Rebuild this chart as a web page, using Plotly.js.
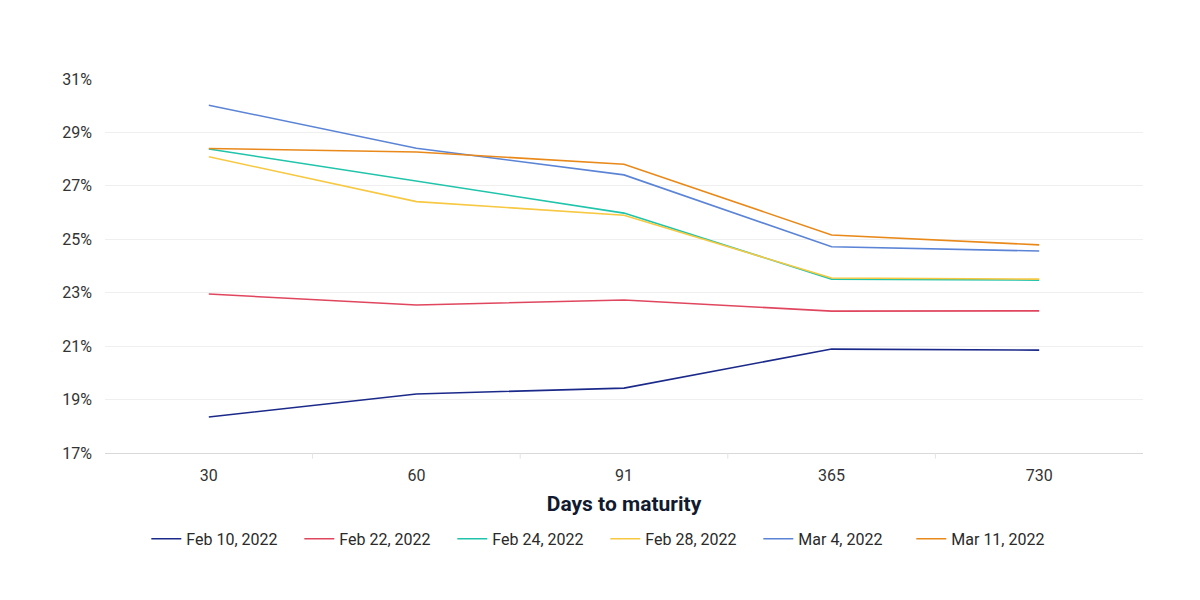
<!DOCTYPE html>
<html>
<head>
<meta charset="utf-8">
<script src="https://cdn.plot.ly/plotly-3.0.1.min.js"></script>
<style>
  body { margin: 0; background: #fff; }
  #chart { width: 1200px; height: 600px; }
</style>
</head>
<body>
<div id="chart"></div>
<script>
var days = ['30', '60', '91', '365', '730'];

var feb10 = [18.35, 19.21, 19.43, 20.89, 20.85];
var feb22 = [22.95, 22.54, 22.73, 22.31, 22.32];
var feb24 = [28.38, 27.18, 25.98, 23.51, 23.47];
var feb28 = [28.09, 26.41, 25.90, 23.55, 23.51];
var mar4  = [30.02, 28.41, 27.41, 24.72, 24.56];
var mar11 = [28.40, 28.27, 27.81, 25.16, 24.79];

var names  = ['Feb 10, 2022', 'Feb 22, 2022', 'Feb 24, 2022', 'Feb 28, 2022', 'Mar 4, 2022', 'Mar 11, 2022'];
var colors = ['#1b2a8a', '#e0475f', '#1fc4aa', '#f7c841', '#5b84d6', '#e8891a'];
var series = [feb10, feb22, feb24, feb28, mar4, mar11];

var traces = series.map(function (s, i) {
    return {
        x: days,
        y: s,
        name: names[i],
        type: 'scatter',
        mode: 'lines',
        line: { color: colors[i], width: 1.6 },
        hovertemplate: '%{y:.2f}%<extra>' + names[i] + '</extra>'
    };
});

var layout = {
    width: 1200,
    height: 600,
    paper_bgcolor: '#ffffff',
    plot_bgcolor: '#ffffff',
    font: { family: 'Roboto, "Open Sans", sans-serif', size: 16, color: '#333333' },
    margin: { l: 105, r: 57, t: 79, b: 147 },
    showlegend: true,
    legend: {
        orientation: 'h',
        x: 0.482,
        xanchor: 'center',
        y: -0.184,
        yanchor: 'top',
        font: { size: 16, color: '#2a2a2a' },
        entrywidth: 108,
        itemwidth: 30,
        tracegroupgap: 0
    },
    xaxis: {
        type: 'category',
        range: [-0.5, 4.5],
        showgrid: false,
        showline: true,
        linecolor: '#d9d9d9',
        linewidth: 1,
        ticks: '',
        tickfont: { size: 16, color: '#333333' },
        ticklabelstandoff: 8,
        automargin: false,
        title: {
            text: 'Days to maturity',
            font: { size: 21, color: '#111a2e', family: 'Roboto, sans-serif', weight: 'bold' },
            standoff: 12
        },
        zeroline: false
    },
    yaxis: {
        range: [17, 31],
        tickvals: [17, 19, 21, 23, 25, 27, 29, 31],
        ticktext: ['17%', '19%', '21%', '23%', '25%', '27%', '29%', '31%'],
        showgrid: true,
        gridcolor: '#efefef',
        gridwidth: 1,
        zeroline: false,
        showline: false,
        ticks: '',
        automargin: false,
        ticklabelstandoff: 12,
        tickfont: { size: 16, color: '#333333' }
    },
    shapes: [1, 2, 3, 4].map(function (k) {
        return {
            type: 'line',
            xref: 'x', yref: 'paper',
            x0: k - 0.5, x1: k - 0.5,
            y0: 0, y1: -0.015,
            line: { color: '#e3e3e3', width: 1 }
        };
    })
};

Plotly.newPlot('chart', traces, layout, { displayModeBar: false, staticPlot: true });
</script>
</body>
</html>
